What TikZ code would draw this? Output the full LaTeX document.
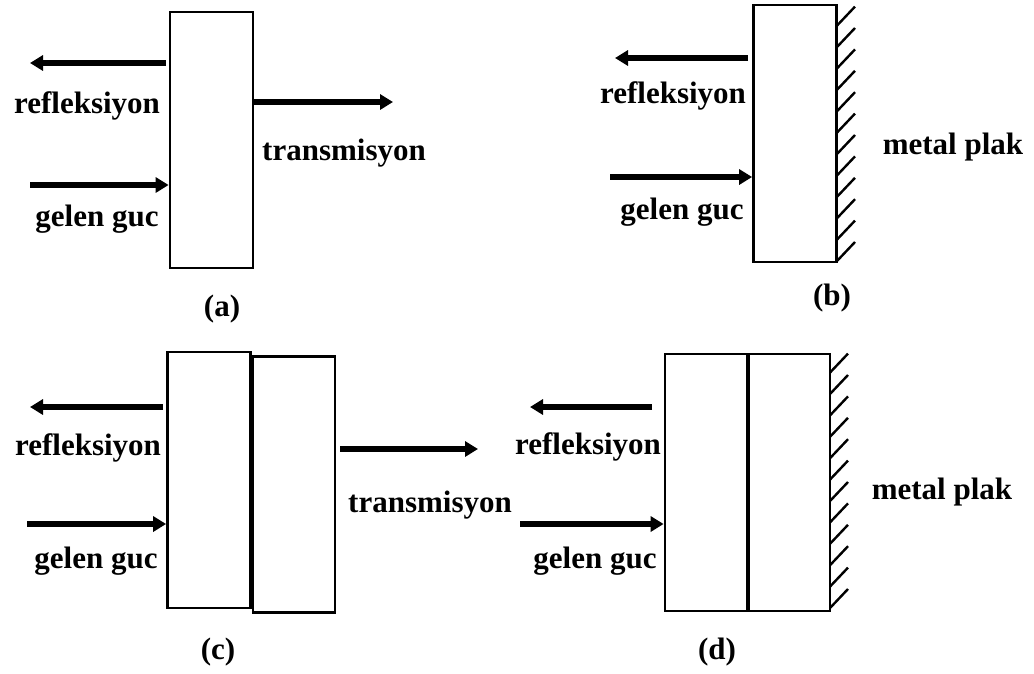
\documentclass[tikz,border=0pt]{standalone}
\usepackage{fontspec}
\setmainfont{Liberation Serif}
\usetikzlibrary{arrows.meta}
\begin{document}
\begin{tikzpicture}[x=1pt,y=-1pt,
  slab/.style={draw, line width=2.8pt, inner sep=0pt, minimum width=83pt, minimum height=256pt},
  ray/.style={line width=6.5pt, -{Triangle[length=13pt,width=15pt]}},
  lbl/.style={font=\fontsize{31}{36}\selectfont\bfseries, inner sep=0pt, anchor=base},
  sublbl/.style={font=\fontsize{31}{36}\selectfont\bfseries, inner sep=0pt},
  hatch/.style={line width=2.4pt}]
\useasboundingbox[fill=white] (0,0) rectangle (1034,673);

% ---------- (a) ----------
\node[slab] (sa) at (211.5,140) {};
\coordinate (ra1) at (166,63);   \coordinate (ra2) at (30,63);
\coordinate (ia1) at (30,185);   \coordinate (ia2) at (sa.west |- ia1);
\coordinate (ta1) at (sa.east |- 0,102); \coordinate (ta2) at (393,102);
\draw[ray] (ra1) -- (ra2);
\draw[ray] (ia1) -- (ia2);
\draw[ray] (ta1) -- (ta2);
\node[lbl] (la1) at (87,113) {refleksiyon};
\node[lbl] (la2) at (97,226) {gelen guc};
\node[lbl] (la3) at (344,160) {transmisyon};
\node[sublbl] (ca) at (222,309) {(a)};

% ---------- (b) ----------
\node[slab, minimum height=257pt] (sb) at (795,133.5) {};
\coordinate (rb1) at (748,58);   \coordinate (rb2) at (615,58);
\coordinate (ib1) at (610,177);  \coordinate (ib2) at (sb.west |- ib1);
\draw[ray] (rb1) -- (rb2);
\draw[ray] (ib1) -- (ib2);
\foreach \i in {0,...,11} \draw[hatch] (837,{261-\i*21.4}) -- ++(18,-19);
\node[lbl] (lb1) at (673,103) {refleksiyon};
\node[lbl] (lb2) at (682,219) {gelen guc};
\node[lbl] (lb3) at (953,154) {metal plak};
\node[sublbl] (cb) at (832,298) {(b)};

% ---------- (c) ----------
\node[slab] (sc1) at (209,480) {};
\node[slab, minimum width=82pt] (sc2) at (294,484.5) {};
\coordinate (rc1) at (163,407);  \coordinate (rc2) at (30,407);
\coordinate (ic1) at (27,524);   \coordinate (ic2) at (sc1.west |- ic1);
\coordinate (tc1) at (340,449);  \coordinate (tc2) at (478,449);
\draw[ray] (rc1) -- (rc2);
\draw[ray] (ic1) -- (ic2);
\draw[ray] (tc1) -- (tc2);
\node[lbl] (lc1) at (88,455) {refleksiyon};
\node[lbl] (lc2) at (96,568) {gelen guc};
\node[lbl] (lc3) at (430,512) {transmisyon};
\node[sublbl] (cc) at (218,652) {(c)};

% ---------- (d) ----------
\node[slab, minimum width=82pt, minimum height=257pt] (sd1) at (706,482.5) {};
\node[slab, minimum width=81pt, minimum height=257pt] (sd2) at (789.5,482.5) {};
\coordinate (rd1) at (652,407);  \coordinate (rd2) at (530,407);
\coordinate (id1) at (520,524);  \coordinate (id2) at (sd1.west |- id1);
\draw[ray] (rd1) -- (rd2);
\draw[ray] (id1) -- (id2);
\foreach \i in {0,...,11} \draw[hatch] (830,{608-\i*21.4}) -- ++(18,-19);
\node[lbl] (ld1) at (588,454) {refleksiyon};
\node[lbl] (ld2) at (595,568) {gelen guc};
\node[lbl] (ld3) at (942,499) {metal plak};
\node[sublbl] (cd) at (717,652) {(d)};
\end{tikzpicture}
\end{document}
